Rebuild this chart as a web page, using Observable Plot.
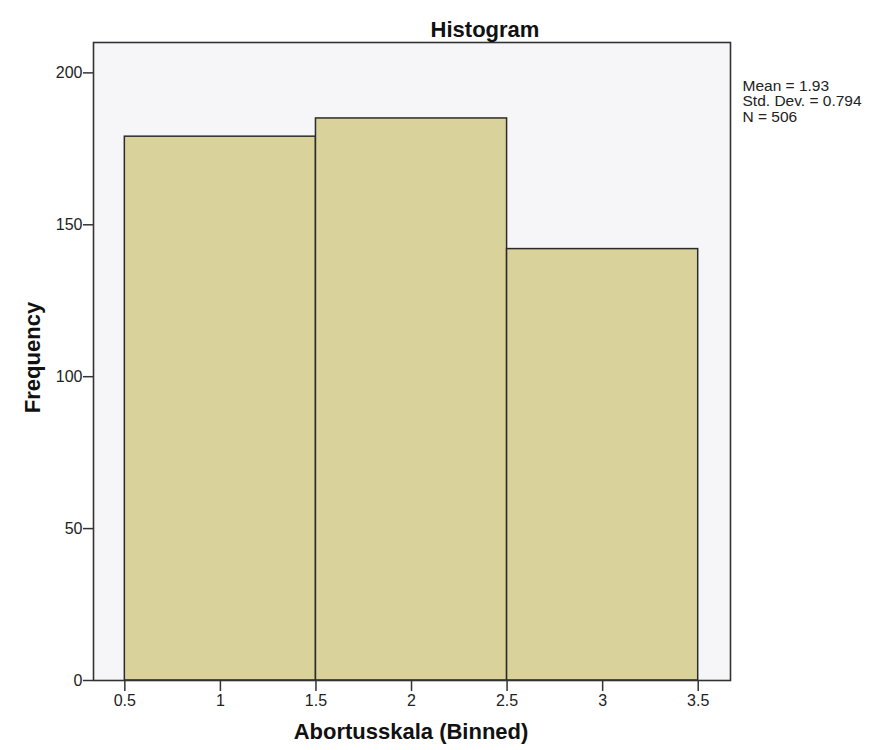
<!DOCTYPE html>
<html>
<head>
<meta charset="utf-8">
<script src="https://cdn.jsdelivr.net/npm/d3@7"></script>
<script src="https://cdn.jsdelivr.net/npm/@observablehq/plot@0.6"></script>
<style>
  html, body { margin: 0; padding: 0; background: #ffffff; }
  svg { display: block; }
  #chart svg g[aria-label="x-axis tick label"],
  #chart svg g[aria-label="y-axis tick label"] { font-size: 16px; }
  #chart svg g[aria-label="x-axis tick label"] text,
  #chart svg g[aria-label="y-axis tick label"] text { font-size: 16px; }
</style>
</head>
<body>
<div id="chart"></div>
<script>
// Data
const binLower = [0.5, 1.5, 2.5];
const binUpper = [1.5, 2.5, 3.5];
const counts = [179, 185, 142];
const xTicks = [0.5, 1, 1.5, 2, 2.5, 3, 3.5];
const yTicks = [0, 50, 100, 150, 200];
const titleText = "Histogram";
const xLabel = "Abortusskala (Binned)";
const yLabel = "Frequency";
const statLines = ["Mean = 1.93", "Std. Dev. = 0.794", "N = 506"];

const bins = binLower.map((lo, i) => ({x1: lo, x2: binUpper[i], count: counts[i]}));

const font = "'Liberation Sans', Arial, sans-serif";

const chart = Plot.plot({
  width: 872,
  height: 750,
  marginLeft: 93,
  marginRight: 142,
  marginTop: 42,
  marginBottom: 70,
  style: {fontFamily: font, fontSize: "16px", color: "#222", background: "#ffffff"},
  x: {domain: [0.336, 3.669], ticks: xTicks, tickFormat: d => String(d), label: null},
  y: {domain: [0, 210], ticks: yTicks, label: null},
  marks: [
    Plot.frame({fill: "#f6f6f8", stroke: null}),
    Plot.rectY(bins, {x1: "x1", x2: "x2", y: "count", fill: "#d9d29b", stroke: "#2b2b2b", strokeWidth: 1.5}),
    Plot.frame({stroke: "#333333", strokeWidth: 1.6}),
    Plot.axisY({ticks: yTicks, tickSize: 10, tickPadding: 1, stroke: "#333", strokeWidth: 1.5, fontSize: 16, fill: "#222", label: null}),
    Plot.axisX({ticks: xTicks, tickSize: 11, tickPadding: 3, stroke: "#333", strokeWidth: 1.5, fontSize: 16, fill: "#222", tickFormat: d => String(d), label: null}),
    Plot.text([titleText], {frameAnchor: "top", dx: 73, dy: -21, fontWeight: "bold", fontSize: 22, fill: "#111"}),
    Plot.text([xLabel], {frameAnchor: "bottom", dx: -1, dy: 58, fontWeight: "bold", fontSize: 22, fill: "#111"}),
    Plot.text([yLabel], {frameAnchor: "left", textAnchor: "middle", dx: -61, dy: -4, rotate: -90, fontWeight: "bold", fontSize: 22, fill: "#111"}),
    Plot.text([statLines.join("\n")], {frameAnchor: "top-right", textAnchor: "start", lineAnchor: "top", dx: 12, dy: 37, lineHeight: 1.0, fontSize: 15.5, fill: "#222"})
  ]
});

document.getElementById("chart").appendChild(chart);
</script>
</body>
</html>
